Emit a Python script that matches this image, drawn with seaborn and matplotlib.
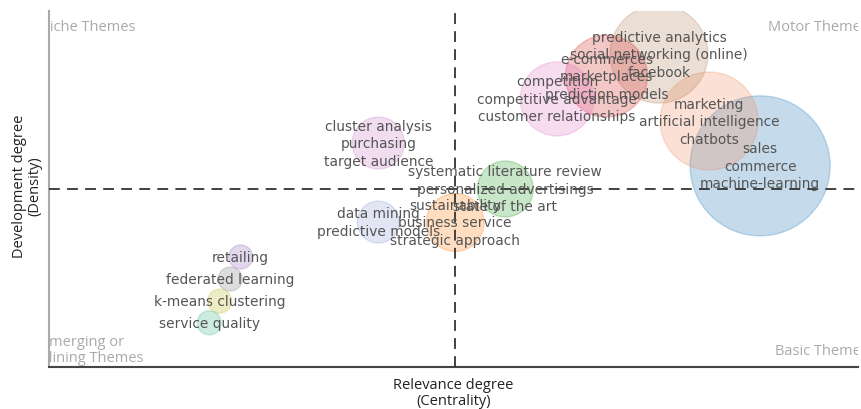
import matplotlib
matplotlib.use("Agg")
import matplotlib.pyplot as plt
import seaborn as sns
import pandas as pd

# Thematic map: one bubble per cluster, labelled with its top keywords
cluster_words = [
    ["sales", "commerce", "machine-learning"],
    ["marketing", "artificial intelligence", "chatbots"],
    ["predictive analytics", "social networking (online)", "facebook"],
    ["e-commerces", "marketplaces", "prediction models"],
    ["competition", "competitive advantage", "customer relationships"],
    ["cluster analysis", "purchasing", "target audience"],
    ["systematic literature review", "personalized advertisings", "state of the art"],
    ["sustainability", "business service", "strategic approach"],
    ["data mining", "predictive models"],
    ["retailing"],
    ["federated learning"],
    ["k-means clustering"],
    ["service quality"],
]
centrality = [8.79, 8.16, 7.54, 6.89, 6.28, 4.07, 5.64, 5.02, 4.07, 2.37, 2.24, 2.11, 1.98]
density = [5.65, 6.91, 8.79, 8.17, 7.53, 6.29, 5.00, 4.06, 4.07, 3.09, 2.47, 1.85, 1.24]
occurrences = [1225, 600, 600, 420, 342, 169, 196, 210, 110, 36, 36, 36, 36]
cluster_colors = ["#1f77b4", "#f08a5d", "#b5805c", "#d62728", "#e377c2", "#cc79c8",
                  "#2ca02c", "#ff7f0e", "#8c9bd6", "#9467bd", "#7f7f7f", "#bcbd22", "#3cb88a"]

centrality_split = 5.02
density_split = 5.0
quadrant_names = ["Niche Themes", "Motor Themes", "Emerging or\nDeclining Themes", "Basic Themes"]

df = pd.DataFrame({
    "cluster": [w[0] for w in cluster_words],
    "centrality": centrality,
    "density": density,
    "occurrences": occurrences,
})

sns.set_theme(style="white")
plt.rcParams["font.family"] = ["DejaVu Sans"]

fig = plt.figure(figsize=(8.61, 4.10), dpi=100)
ax = fig.add_axes([49 / 861, 42 / 410, 809 / 861, 356 / 410])

# bubble area proportional to the number of occurrences
area_per_occ = 8.3
sns.scatterplot(
    data=df, x="centrality", y="density", hue="cluster", size="occurrences",
    palette=dict(zip(df["cluster"], cluster_colors)),
    sizes=(min(occurrences) * area_per_occ, max(occurrences) * area_per_occ),
    alpha=0.26, linewidth=1.0, legend=False, ax=ax, zorder=2,
)
for coll in ax.collections:
    coll.set_edgecolor(coll.get_facecolor())

ax.set_xlim(0, 10)
ax.set_ylim(0, 10)

ax.axvline(centrality_split, color="#333333", lw=1.3, ls=(0, (6, 4)), zorder=3)
ax.axhline(density_split, color="#333333", lw=1.3, ls=(0, (6, 4)), zorder=3)

# keyword labels stacked around each bubble centre
line_step = 12.6
for words, cx, cy in zip(cluster_words, centrality, density):
    n = len(words)
    for i, w in enumerate(words):
        off = ((n - 1) / 2 - i) * line_step
        ax.annotate(w, (cx, cy), xytext=(0, off), textcoords="offset points",
                    ha="center", va="center", fontsize=9.9, color="#555555", zorder=4)

qkw = dict(transform=ax.transAxes, fontsize=10.5, color="#aaaaaa",
           family=["Open Sans", "DejaVu Sans"], clip_on=True, zorder=5)
ax.text(-0.012, 0.957, quadrant_names[0], ha="left", va="center", **qkw)
ax.text(1.012, 0.957, quadrant_names[1], ha="right", va="center", **qkw)
ax.text(0.042, 0.048, quadrant_names[2], ha="center", va="center",
        multialignment="center", linespacing=1.1, **qkw)
ax.text(1.012, 0.046, quadrant_names[3], ha="right", va="center", **qkw)

ax.set_xticks([centrality_split])
ax.set_yticks([density_split])
ax.set_xticklabels([])
ax.set_yticklabels([])
ax.tick_params(axis="both", direction="in", length=7, width=1, color="#666666")

for side in ("top", "right"):
    ax.spines[side].set_visible(False)
ax.spines["left"].set_color("#aaaaaa")
ax.spines["left"].set_linewidth(1.5)
ax.spines["bottom"].set_color("#444444")
ax.spines["bottom"].set_linewidth(1.5)

lab = dict(fontsize=10.5, color="#222222", family=["Open Sans", "DejaVu Sans"], linespacing=1.05)
ax.set_xlabel("Relevance degree\n(Centrality)", labelpad=4, **lab)
ax.set_ylabel("Development degree\n(Density)", **lab)
ax.yaxis.set_label_coords(-0.008, 0.51)

fig.savefig("out.png", dpi=100)
